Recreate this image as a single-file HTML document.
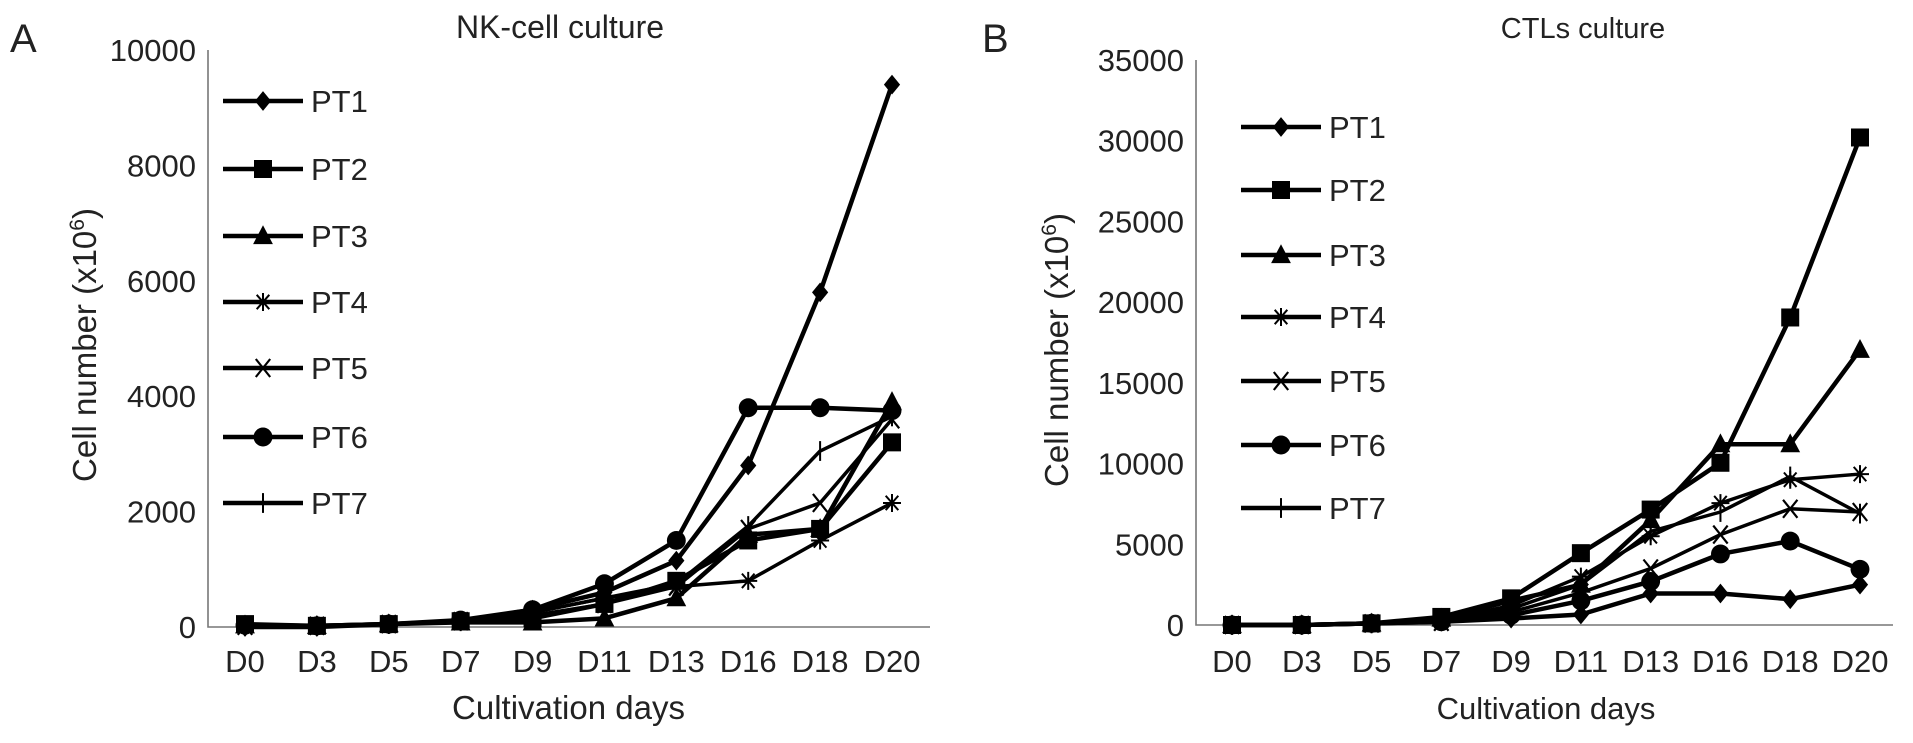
<!DOCTYPE html>
<html><head><meta charset="utf-8"><style>
html,body{margin:0;padding:0;background:#fff;}
svg{display:block;font-family:"Liberation Sans",Arial,sans-serif;}
</style></head><body>
<svg id="chart" width="1913" height="743" viewBox="0 0 1913 743" xmlns="http://www.w3.org/2000/svg"></svg>
<script>
const categories = ["D0","D3","D5","D7","D9","D11","D13","D16","D18","D20"];
const seriesNames = ["PT1","PT2","PT3","PT4","PT5","PT6","PT7"];
const markers = ["diamond","square","triangle","asterisk","cross","circle","plus"];
const nkTicks = [0,2000,4000,6000,8000,10000];
const ctlTicks = [0,5000,10000,15000,20000,25000,30000,35000];
const nkPT1 = [0,0,50,100,300,600,1150,2800,5800,9400];
const nkPT2 = [50,20,50,100,150,400,800,1500,1700,3200];
const nkPT3 = [30,20,50,80,80,150,500,1600,1700,3900];
const nkPT4 = [20,20,50,100,250,500,700,800,1500,2150];
const nkPT5 = [20,20,50,100,200,400,700,1700,2150,3600];
const nkPT6 = [30,20,50,120,300,750,1500,3800,3800,3750];
const nkPT7 = [20,20,50,100,250,500,750,1750,3050,3650];
const ctlPT1 = [0,0,100,200,400,650,1950,1950,1600,2500];
const ctlPT2 = [0,0,100,500,1650,4450,7150,10050,19050,30200];
const ctlPT3 = [0,0,100,400,1500,2500,6500,11200,11200,17050];
const ctlPT4 = [0,0,100,300,1200,3000,5500,7550,9000,9350];
const ctlPT5 = [0,0,100,200,800,2000,3500,5600,7200,7000];
const ctlPT6 = [0,0,100,200,600,1500,2700,4400,5200,3450];
const ctlPT7 = [0,0,100,300,1000,2500,5800,7000,9200,6900];

const NS="http://www.w3.org/2000/svg";
const svg=document.getElementById('chart');
function mk(tag,attrs,parent){const e=document.createElementNS(NS,tag);for(const k in attrs)e.setAttribute(k,attrs[k]);(parent||svg).appendChild(e);return e;}
function txt(x,y,s,size,anchor,parent){const t=mk('text',{x:x,y:y,'font-size':size,'text-anchor':anchor||'middle',fill:'#222'},parent);t.textContent=s;return t;}

function marker(g,type,x,y){
  const s=9;let m;
  if(type==='diamond'){m=mk('polygon',{points:`${x},${y-s*1.1} ${x+s*0.9},${y} ${x},${y+s*1.1} ${x-s*0.9},${y}`,fill:'#000'},g);}
  else if(type==='square'){m=mk('rect',{x:x-s,y:y-s,width:2*s,height:2*s,fill:'#000'},g);}
  else if(type==='triangle'){m=mk('polygon',{points:`${x},${y-s*1.2} ${x+s*1.1},${y+s*0.9} ${x-s*1.1},${y+s*0.9}`,fill:'#000'},g);}
  else if(type==='circle'){m=mk('circle',{cx:x,cy:y,r:s*1.05,fill:'#000'},g);}
  else if(type==='asterisk'){m=mk('path',{d:`M${x-s},${y}H${x+s}M${x-s*0.7},${y-s*0.8}L${x+s*0.7},${y+s*0.8}M${x-s*0.7},${y+s*0.8}L${x+s*0.7},${y-s*0.8}M${x},${y-s}V${y+s}`,stroke:'#000','stroke-width':2,fill:'none'},g);}
  else if(type==='cross'){m=mk('path',{d:`M${x-s*0.8},${y-s}L${x+s*0.8},${y+s}M${x-s*0.8},${y+s}L${x+s*0.8},${y-s}`,stroke:'#000','stroke-width':2.2,fill:'none'},g);}
  else {m=mk('path',{d:`M${x},${y-s*1.1}V${y+s*1.1}`,stroke:'#000','stroke-width':2,fill:'none'},g);}
  
  
}

function panel(cfg){
  const g=mk('g',{});
  
  
  const xs=i=>cfg.x0+i*(cfg.x1-cfg.x0)/(categories.length-1);
  const ys=v=>cfg.y0-(v/cfg.max)*(cfg.y0-cfg.yTop);
  const letter=txt(cfg.letterX,52,cfg.letter,40,'start',g);
  
  const title=txt(cfg.titleX,38,cfg.title,cfg.titleSize,'middle',g);
  
  const ax=mk('path',{d:`M${cfg.ax},${ys(cfg.max)}V${cfg.y0}H${cfg.axEnd}`,stroke:'#777','stroke-width':1.6,fill:'none'},g);
  
  cfg.ticks.forEach(t=>{const e=txt(cfg.ax-12,ys(t)+11,String(t),31,'end',g);
    });
  categories.forEach((c,i)=>{const e=txt(xs(i),672,c,31,'middle',g);
    });
  const xt=txt((cfg.x0+cfg.x1)/2,719,'Cultivation days',cfg.xtSize,'middle',g);
  
  const yt=mk('text',{x:0,y:0,'font-size':33,'text-anchor':'middle',fill:'#222',transform:`translate(${cfg.ytX},${cfg.ytY}) rotate(-90)`},g);
  yt.textContent='Cell number (x10';
  const sup=mk('tspan',{'font-size':21,dy:-12},yt);sup.textContent='6';
  const cl=mk('tspan',{'font-size':33,dy:12},yt);cl.textContent=')';
  
  cfg.data.forEach((arr,si)=>{
    const sg=mk('g',{},g);
    
    
    const pts=arr.map((v,i)=>xs(i)+','+ys(v)).join(' ');
    const lw=(markers[si]==='asterisk'||markers[si]==='cross'||markers[si]==='plus')?3.5:4.5;
    mk('polyline',{points:pts,fill:'none',stroke:'#000','stroke-width':lw,'stroke-linejoin':'round'},sg);
    arr.forEach((v,i)=>marker(sg,markers[si],xs(i),ys(v)));
    const ly=cfg.legY[si];
    const le=mk('g',{},g);
    
    
    mk('line',{x1:cfg.legX,y1:ly,x2:cfg.legX+80,y2:ly,stroke:'#000','stroke-width':4.5},le);
    marker(le,markers[si],cfg.legX+40,ly);
    txt(cfg.legX+88,ly+11,seriesNames[si],31,'start',le);
  });
}
panel({name:'nk-cell-panel',letter:'A',letterX:10,title:'NK-cell culture',titleX:560,titleSize:32,xtSize:33,
  x0:245,x1:892,ax:208,axEnd:930,y0:627,yTop:50,max:10000,ticks:nkTicks,ytX:96,ytY:345,
  data:[nkPT1,nkPT2,nkPT3,nkPT4,nkPT5,nkPT6,nkPT7],
  legX:223,legY:[101,169,236,302,368,437,503]});
panel({name:'ctl-panel',letter:'B',letterX:982,title:'CTLs culture',titleX:1583,titleSize:29,xtSize:31,
  x0:1232,x1:1860,ax:1196,axEnd:1893,y0:625,yTop:60,max:35000,ticks:ctlTicks,ytX:1068,ytY:350,
  data:[ctlPT1,ctlPT2,ctlPT3,ctlPT4,ctlPT5,ctlPT6,ctlPT7],
  legX:1241,legY:[127,190,255,317,381,445,508]});
</script>
</body></html>
